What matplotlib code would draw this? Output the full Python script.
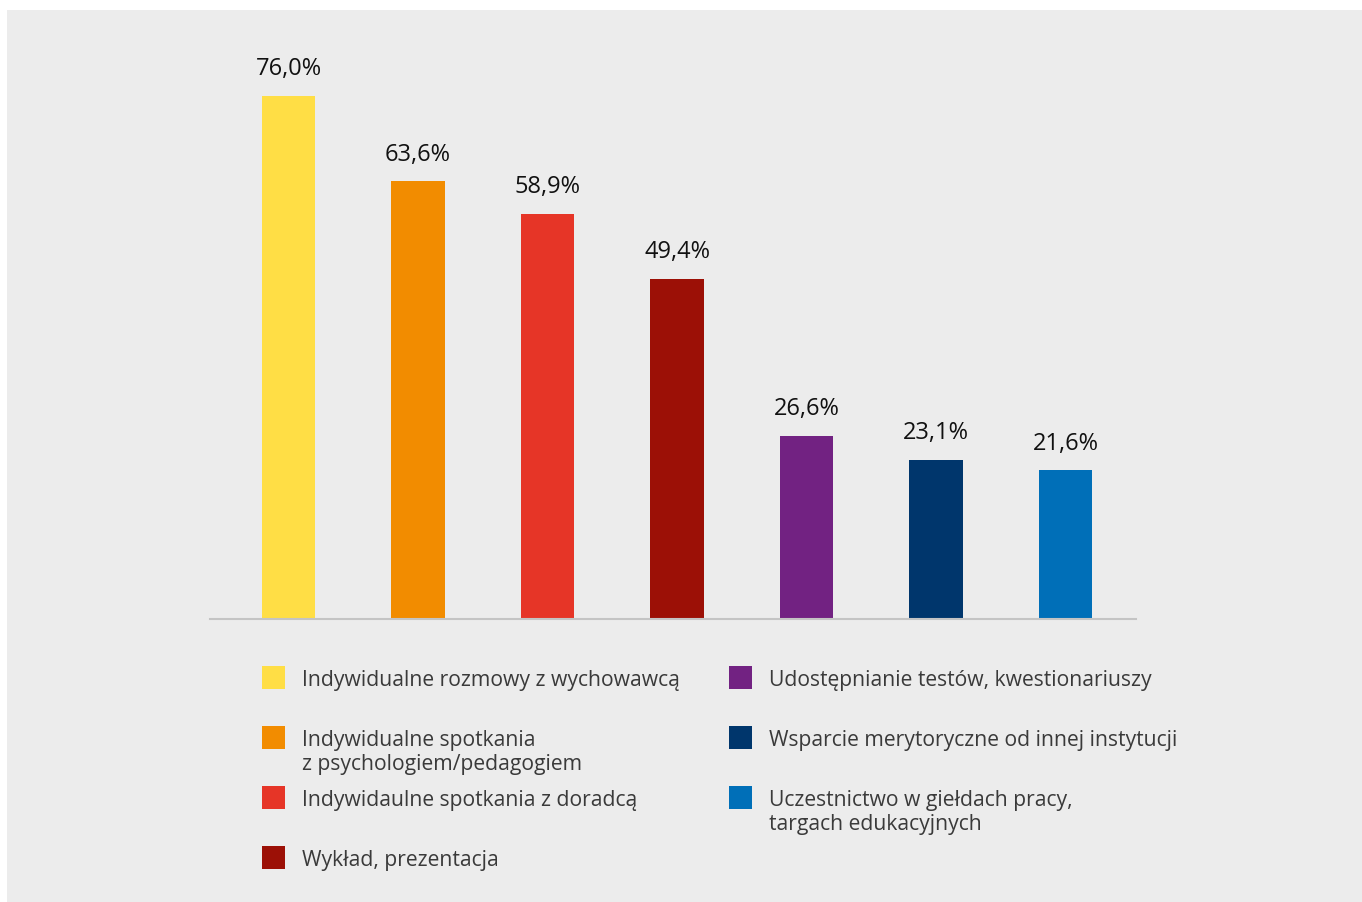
import matplotlib
matplotlib.use('Agg')
import matplotlib.pyplot as plt
from matplotlib.patches import Rectangle

plt.rcParams['font.family'] = ['Open Sans', 'DejaVu Sans']

categories = [
    'Indywidualne rozmowy z wychowawcą',
    'Indywidualne spotkania\nz psychologiem/pedagogiem',
    'Indywidaulne spotkania z doradcą',
    'Wykład, prezentacja',
    'Udostępnianie testów, kwestionariuszy',
    'Wsparcie merytoryczne od innej instytucji',
    'Uczestnictwo w giełdach pracy,\ntargach edukacyjnych',
]
values = [76.0, 63.6, 58.9, 49.4, 26.6, 23.1, 21.6]
colors = ['#FFDE45', '#F28C00', '#E63527', '#9C1006', '#722282', '#00366C', '#006FB8']

W, H = 1362, 903
bg = '#ECECEC'
text_color = '#3A3A3A'

fig = plt.figure(figsize=(W / 100, H / 100), dpi=100, facecolor='white')
fig.patches.append(Rectangle((7 / W, 0), 1 - 7 / W, (H - 11) / H,
                             transform=fig.transFigure, facecolor=bg,
                             edgecolor='none', zorder=-10))

# plot area in pixel positions
ax = fig.add_axes([210 / W, (H - 620) / H, 926 / W, 580 / H])
ax.set_facecolor('none')
ax.set_zorder(5)

x = list(range(len(values)))
ax.bar(x, values, width=0.41, color=colors, zorder=2)
for xi, v in zip(x, values):
    ax.text(xi, v + 2.3, f'{v:.1f}%'.replace('.', ','), ha='center', va='bottom',
            fontsize=17, color='#111111')

ax.set_xlim(-0.606, 6.544)
ax.set_ylim(0, 84.3)
for side in ['top', 'right', 'left']:
    ax.spines[side].set_visible(False)
ax.spines['bottom'].set_color('#C4C4C4')
ax.spines['bottom'].set_linewidth(1.5)
ax.set_xticks([])
ax.set_yticks([])

# legend: two columns, squares + labels
col_x = [262, 729]
row_y = [678.5, 738.5, 798.5, 858.5]
sq = 23
for i, (label, c) in enumerate(zip(categories, colors)):
    col = 0 if i < 4 else 1
    row = i if i < 4 else i - 4
    sx = col_x[col]
    cy = row_y[row]
    fig.patches.append(Rectangle((sx / W, (H - cy - sq / 2) / H), sq / W, sq / H,
                                 transform=fig.transFigure, facecolor=c,
                                 edgecolor='none', zorder=2))
    fig.text((sx + 40) / W, (H - cy + 8) / H, label, ha='left', va='top',
             fontsize=15.2, color=text_color, linespacing=1.17)

fig.savefig('out.png', dpi=100, facecolor=fig.get_facecolor())
